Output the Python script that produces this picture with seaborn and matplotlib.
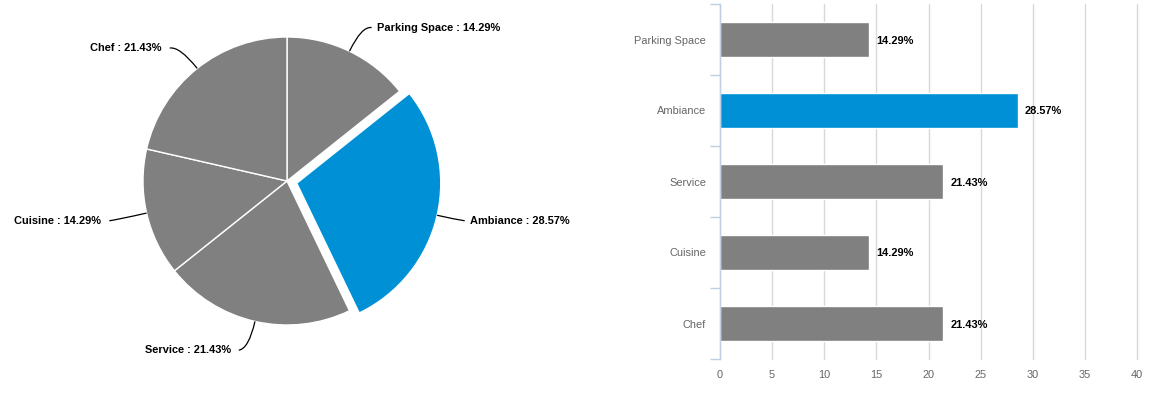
import numpy as np
import matplotlib
matplotlib.use("Agg")
import matplotlib.pyplot as plt
from matplotlib.path import Path
from matplotlib.patches import PathPatch
import seaborn as sns

categories = ["Parking Space", "Ambiance", "Service", "Cuisine", "Chef"]
values = [14.29, 28.57, 21.43, 14.29, 21.43]
highlight = "Ambiance"
x_ticks = [0, 5, 10, 15, 20, 25, 30, 35, 40]

GRAY = "#808080"
BLUE = "#0090D5"
colors = [BLUE if c == highlight else GRAY for c in categories]

sns.set_style("white")
plt.rcParams["font.family"] = ["Liberation Sans", "DejaVu Sans"]
FS = 7.9  # ~11px

W, H = 1175, 395
fig = plt.figure(figsize=(W / 100, H / 100), dpi=100)

# ---------------- Pie (data units = pixels) ----------------
axp = fig.add_axes([0, 0, 600 / W, 1])
cx, cy, R = 287, H - 181, 144
explode = [10 if c == highlight else 0 for c in categories]
wedges, _ = axp.pie(values, colors=colors, startangle=90, counterclock=False,
                    radius=R, center=(cx, cy), explode=explode,
                    wedgeprops=dict(edgecolor="white", linewidth=1))
axp.set_xlim(0, 600)
axp.set_ylim(0, H)
axp.set_aspect("equal")
axp.axis("off")

total = sum(values)
theta = 90.0
for cat, v, ex in zip(categories, values, explode):
    span = 360.0 * v / total
    mid = np.deg2rad(theta - span / 2)
    theta -= span
    d = np.array([np.cos(mid), np.sin(mid)])
    c0 = np.array([cx, cy]) + ex * d
    E = c0 + R * d
    M = c0 + (R + 28 - ex) * d
    sgn = 1 if d[0] >= 0 else -1
    L = np.array([M[0] + sgn * 10, M[1] - 1.5])
    path = Path([E, M, L], [Path.MOVETO, Path.CURVE3, Path.CURVE3])
    axp.add_patch(PathPatch(path, fill=False, edgecolor="black", lw=0.9))
    gap = 5 if sgn > 0 else 8
    axp.text(L[0] + sgn * gap, L[1], f"{cat} : {v:.2f}%",
             ha="left" if sgn > 0 else "right", va="center",
             fontsize=FS, fontweight="bold", color="black")

# ---------------- Bar chart ----------------
axb = fig.add_axes([720 / W, (H - 359) / H, (1137 - 720) / W, (359 - 4) / H])
sns.barplot(x=values, y=categories, hue=categories, palette=colors,
            legend=False, orient="h", width=0.48, saturation=1, ax=axb)
axb.set_xlim(0, 40)
axb.set_ylim(len(categories) - 0.5, -0.5)
axb.set_xticks(x_ticks)
axb.set_xticklabels([str(t) for t in x_ticks])
axb.grid(axis="x", color="#D8D8D8", lw=1)
for gl in axb.get_xgridlines():
    gl.set_clip_on(False)
axb.grid(axis="y", visible=False)
axb.set_axisbelow(True)
for s in ["top", "right", "bottom"]:
    axb.spines[s].set_visible(False)
axb.spines["left"].set_color("#C0D0E0")
axb.spines["left"].set_linewidth(1)
axb.tick_params(axis="x", length=0, pad=8, labelsize=FS, labelcolor="#666666")
axb.tick_params(axis="y", which="major", length=0, pad=10, labelsize=FS,
                labelcolor="#666666")
axb.set_yticks(np.arange(-0.5, len(categories) + 0.5, 1), minor=True)
axb.tick_params(axis="y", which="minor", left=True, length=7.2, width=1,
                color="#C0D0E0")
axb.set_xlabel("")
axb.set_ylabel("")

for cont in axb.containers:
    texts = axb.bar_label(cont, labels=[f"{b.get_width():.2f}%" for b in cont],
                          padding=5, fontsize=FS, fontweight="bold",
                          color="black")
    for t in texts:
        t.set_verticalalignment("center_baseline")

fig.savefig("out.png", dpi=100)
